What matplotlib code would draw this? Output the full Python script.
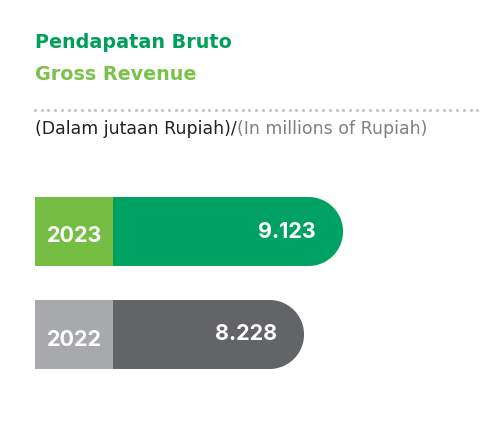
import matplotlib.pyplot as plt
from matplotlib.patches import Polygon, Rectangle
import numpy as np

plt.rcParams['font.family'] = ['Inter', 'DejaVu Sans']

years = ['2023', '2022']
revenue = [9.123, 8.228]
value_labels = ['9.123', '8.228']
label_colors = ['#76bd43', '#a7a9ac']
bar_colors = ['#00a264', '#636467']

fig = plt.figure(figsize=(5, 4.24), dpi=100)
ax = fig.add_axes([0, 0, 1, 1])
# x in value units (about 43.6 px per unit), y in pixels from the top
px_per_unit = 43.6
x0 = 54.7 / px_per_unit
ax.set_xlim(x0, x0 + 500 / px_per_unit)
ax.set_ylim(424, 0)
ax.axis('off')

base = (35 + 54.7) / px_per_unit
block_w = 78 / px_per_unit
bar_h = 69
bar_tops = [197, 300]

for yr, val, lab, lc, bc, top in zip(years, revenue, value_labels,
                                     label_colors, bar_colors, bar_tops):
    r = bar_h / 2
    rx = r / px_per_unit
    cy = top + r
    theta = np.linspace(-np.pi / 2, np.pi / 2, 60)
    xs = np.concatenate([[base], val - rx + rx * np.cos(theta), [base]])
    ys = np.concatenate([[top], cy + r * np.sin(theta), [top + bar_h]])
    ax.add_patch(Polygon(np.column_stack([xs, ys]), closed=True,
                         facecolor=bc, edgecolor='none'))
    ax.add_patch(Rectangle((base, top), block_w, bar_h, facecolor=lc,
                           edgecolor='none'))
    ax.text(base + 12 / px_per_unit, cy + 5, yr, color='white', fontsize=15.5,
            fontweight='bold', ha='left', va='center')
    ax.text(val - 27 / px_per_unit, cy, lab, color='white', fontsize=15.5,
            fontweight='bold', ha='right', va='center')

title_font = ['DejaVu Sans']
fig.text(35 / 500, 1 - 42 / 424, 'Pendapatan Bruto', color='#00a05a',
         fontsize=13.8, fontweight='bold', va='center', family=title_font)
fig.text(35 / 500, 1 - 75 / 424, 'Gross Revenue', color='#7cc24a',
         fontsize=13.8, fontweight='bold', va='center', family=title_font)

dots_x = np.arange(35, 481, 6.7)
ax.plot(dots_x / px_per_unit + x0, np.full_like(dots_x, 110), ls='none',
        marker='o', ms=1.2, color='#c4c4c4')

t1 = fig.text(35 / 500, 1 - 129 / 424, '(Dalam jutaan Rupiah)/', color='#222222',
              fontsize=12.5, va='center', family=title_font)
fig.canvas.draw()
bb = t1.get_window_extent()
fig.text(bb.x1 / 500, 1 - 129 / 424, '(In millions of Rupiah)', color='#808080',
         fontsize=12.5, va='center', family=title_font)

fig.savefig('out.png', dpi=100)
